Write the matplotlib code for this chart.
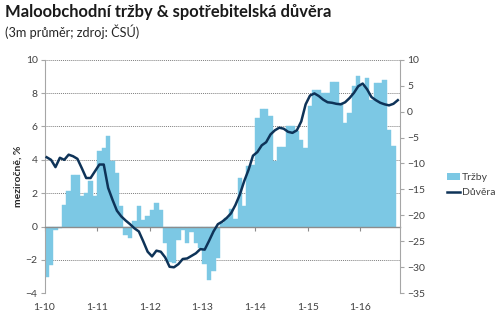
import numpy as np
import matplotlib
matplotlib.use('Agg')
import matplotlib.pyplot as plt
from matplotlib.patches import Patch
from matplotlib.lines import Line2D

plt.rcParams['font.family'] = ['Lato', 'DejaVu Sans']

# retail sales, y/y %, 3m avg (left axis), Jan 2010 - Aug 2016
trzby = [-3.0, -2.3, -0.2, -0.1, 1.3, 2.1, 3.1, 3.1, 1.85, 2.0, 2.7, 1.85,
         4.55, 4.7, 5.4, 3.9, 3.2, 1.2, -0.5, -0.7, 0.35, 1.2, 0.4, 0.65,
         1.0, 1.4, 1.0, -1.0, -2.1, -2.2, -0.8, -0.2, -1.0, -0.3, -1.0, -1.3,
         -2.25, -3.2, -2.65, -1.9, 0.2, 0.5, 1.05, 0.45, 2.9, 1.25, 3.6, 3.7,
         6.5, 7.05, 7.05, 6.65, 3.9, 4.75, 4.75, 6.05, 6.0, 5.7, 5.2, 4.7,
         7.2, 8.2, 8.2, 8.0, 8.0, 8.65, 8.65, 7.4, 6.2, 6.8, 8.4, 9.05,
         8.4, 8.9, 7.6, 8.6, 8.6, 8.8, 5.8, 4.8]

# consumer confidence (right axis), Jan 2010 - Sep 2016
duvera = [-8.8, -9.3, -10.7, -8.9, -9.3, -8.3, -8.6, -9.1, -10.9, -12.8, -12.8, -11.5,
          -10.2, -10.2, -14.7, -17.0, -19.1, -20.2, -21.0, -21.7, -22.5, -23.1, -25.0, -27.0,
          -27.9, -26.8, -27.0, -28.1, -29.9, -30.0, -29.4, -28.4, -28.3, -27.8, -27.3, -26.5,
          -26.6, -24.9, -23.1, -21.7, -21.2, -20.5, -19.6, -18.0, -16.0, -13.4, -11.2, -8.5,
          -7.8, -6.5, -5.9, -4.4, -3.6, -3.1, -3.3, -3.9, -4.1, -3.6, -1.9, 1.4,
          3.1, 3.5, 3.0, 2.3, 1.8, 1.7, 1.5, 1.4, 1.8, 2.6, 3.6, 4.9,
          5.4, 4.3, 2.8, 2.2, 1.7, 1.4, 1.2, 1.5, 2.2]

year_labels = ['1-10', '1-11', '1-12', '1-13', '1-14', '1-15', '1-16']

bar_color = '#7CC8E4'
line_color = '#0E3358'
text_color = '#404040'

fig = plt.figure(figsize=(5, 3.28), dpi=100)
ax = fig.add_axes([0.089, 0.106, 0.711, 0.712])
ax2 = ax.twinx()

xb = np.arange(len(trzby))
xl = np.arange(len(duvera))
ax.bar(xb, trzby, width=1.0, color=bar_color, linewidth=0.3, edgecolor=bar_color, zorder=2)
ax2.plot(xl, duvera, color=line_color, lw=1.8, solid_joinstyle='round', zorder=3)

ax.set_xlim(-0.5, len(duvera) - 0.5)
ax.set_ylim(-4, 10)
ax.set_yticks(np.arange(-4, 11, 2))
ax2.set_ylim(-35, 10)
ax2.set_yticks(np.arange(-35, 11, 5))

# grid
ax.yaxis.grid(True, linestyle=(0, (1, 1)), color='#7f7f7f', lw=0.7)
ax.set_axisbelow(True)

# spines
for a in (ax, ax2):
    a.spines['top'].set_visible(False)
ax.spines['right'].set_visible(False)
ax2.spines['bottom'].set_visible(False)
ax2.spines['left'].set_visible(False)
ax.spines['left'].set_color('#a6a6a6')
ax2.spines['right'].set_color('#a6a6a6')
ax.spines['bottom'].set_position(('data', 0))
ax.spines['bottom'].set_color('#8c8c8c')
ax.spines['bottom'].set_linewidth(1.0)

year_ticks = np.arange(len(year_labels)) * 12 - 0.5
ax.set_xticks(year_ticks)
ax.tick_params(axis='x', length=3, color='#8c8c8c', labelbottom=False)
ax.tick_params(axis='y', length=3, color='#a6a6a6', labelsize=7.5, labelcolor=text_color, pad=2)
ax2.tick_params(axis='y', length=3, color='#a6a6a6', labelsize=7.5, labelcolor=text_color, pad=2)

sec = ax.secondary_xaxis('bottom')
sec.set_xticks(year_ticks)
sec.set_xticklabels(year_labels)
sec.spines['bottom'].set_visible(False)
sec.tick_params(length=0, labelsize=7.5, labelcolor=text_color, pad=7)

ax.set_ylabel('meziročně, %', fontsize=7.5, fontweight='bold', color='#262626', labelpad=2)

fig.text(0.01, 0.963, 'Maloobchodní tržby & spotřebitelská důvěra', fontsize=11.9,
         fontweight='bold', color='#1a1a1a', va='center')
fig.text(0.01, 0.903, '(3m průměr; zdroj: ČSÚ)', fontsize=9.2, color='#262626', va='center')

handles = [Patch(facecolor=bar_color, edgecolor='none'),
           Line2D([0], [0], color=line_color, lw=1.8)]
fig.legend(handles, ['Tržby', 'Důvěra'], loc='center left', bbox_to_anchor=(0.893, 0.435),
           frameon=False, fontsize=7.5, handlelength=1.3, handleheight=0.6,
           handletextpad=0.15, labelspacing=0.6, borderpad=0, borderaxespad=0,
           labelcolor=text_color)

fig.savefig('out.png', dpi=100)
